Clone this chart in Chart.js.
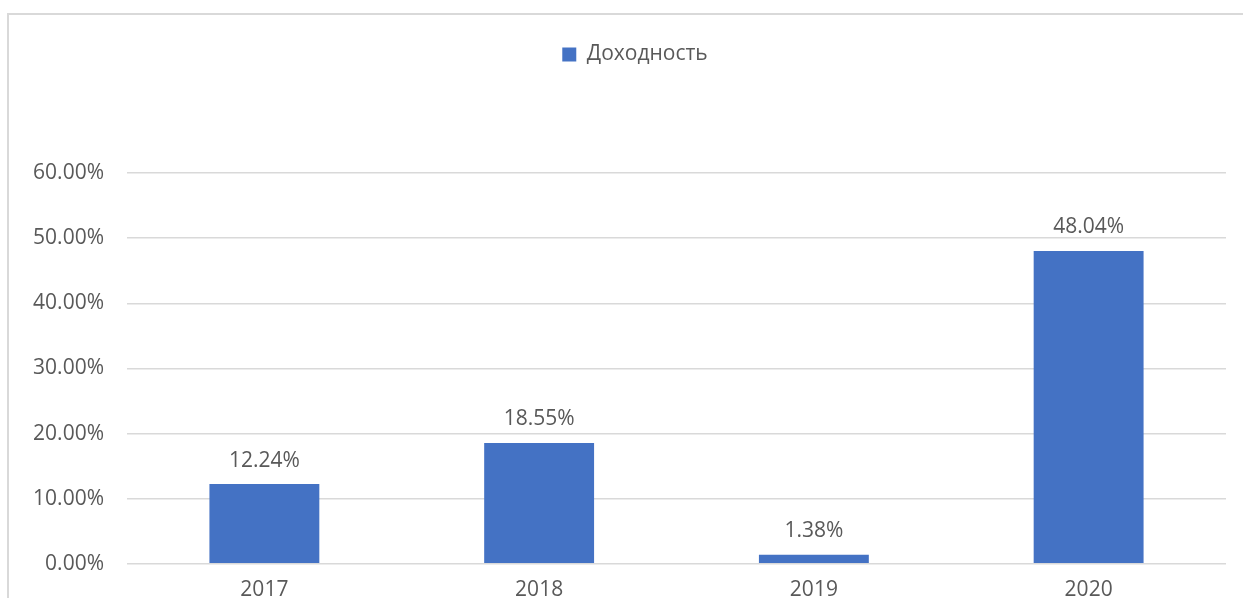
<!DOCTYPE html>
<html>
<head>
<meta charset="utf-8">
<script src="https://cdn.jsdelivr.net/npm/chart.js@4/dist/chart.umd.min.js"></script>
<style>
  html, body { margin: 0; padding: 0; background: #fff; overflow: hidden; }
  #frame {
    position: absolute; left: 7px; top: 13px; width: 1300px; height: 700px;
    border-left: 2px solid #d9d9d9; border-top: 2px solid #d9d9d9;
  }
  #yieldChart { position: absolute; left: 0; top: 0; }
</style>
</head>
<body>
<div id="frame"></div>
<canvas id="yieldChart" width="1243" height="620"></canvas>
<script>
const years = ["2017", "2018", "2019", "2020"];
const yieldValues = [0.1224, 0.1855, 0.0138, 0.4804];
const seriesName = "Доходность";

const textColor = "#595959";
const fontFamily = "'Open Sans', sans-serif";
const fontSize = 21;

const pct = v => (v * 100).toFixed(2) + "%";

// extra room under the legend, and nudge it right like the Excel original
const legendSpace = {
    id: "legendSpace",
    afterInit(chart) {
        const fit = chart.legend.fit;
        chart.legend.fit = function() {
            fit.call(this);
            this.height += 98;
        };
    },
    afterLayout(chart) {
        chart.legend.left += 22;
        chart.legend.right += 22;
    },
};

const barLabels = {
    id: "barLabels",
    afterDatasetsDraw(chart) {
        const ctx = chart.ctx;
        const meta = chart.getDatasetMeta(0);
        ctx.save();
        ctx.font = fontSize + "px " + fontFamily;
        ctx.fillStyle = textColor;
        ctx.textAlign = "center";
        ctx.textBaseline = "bottom";
        meta.data.forEach((bar, i) => {
            ctx.fillText(pct(yieldValues[i]), bar.x, bar.y - 13);
        });
        ctx.restore();
    },
};

const ctx = document.querySelector("#yieldChart").getContext("2d");
const yieldChart = new Chart(ctx, {
    type: "bar",
    data: {
        labels: years,
        datasets: [{
            label: seriesName,
            data: yieldValues,
            backgroundColor: "#4472c4",
            borderWidth: 0,
            categoryPercentage: 1,
            barPercentage: 0.4,
        }],
    },
    options: {
        responsive: false,
        animation: false,
        layout: {
            padding: { top: 14, right: 17, bottom: 3, left: 0 },
        },
        plugins: {
            legend: {
                display: true,
                position: "top",
                labels: {
                    boxWidth: 14,
                    boxHeight: 14,
                    padding: 30,
                    color: textColor,
                    font: { size: fontSize, family: fontFamily },
                },
            },
            tooltip: { enabled: false },
        },
        scales: {
            x: {
                grid: { display: false, drawTicks: false },
                border: { display: false },
                ticks: {
                    color: textColor,
                    padding: 14,
                    font: { size: fontSize, family: fontFamily },
                },
            },
            y: {
                min: 0,
                max: 0.6,
                afterFit(scale) { scale.width = 127; },
                grid: { color: "#d9d9d9", lineWidth: 1.5, drawTicks: false },
                border: { display: false },
                ticks: {
                    stepSize: 0.1,
                    padding: 23,
                    color: textColor,
                    font: { size: fontSize, family: fontFamily },
                    callback: v => pct(v),
                },
            },
        },
    },
    plugins: [legendSpace, barLabels],
});
</script>
</body>
</html>
